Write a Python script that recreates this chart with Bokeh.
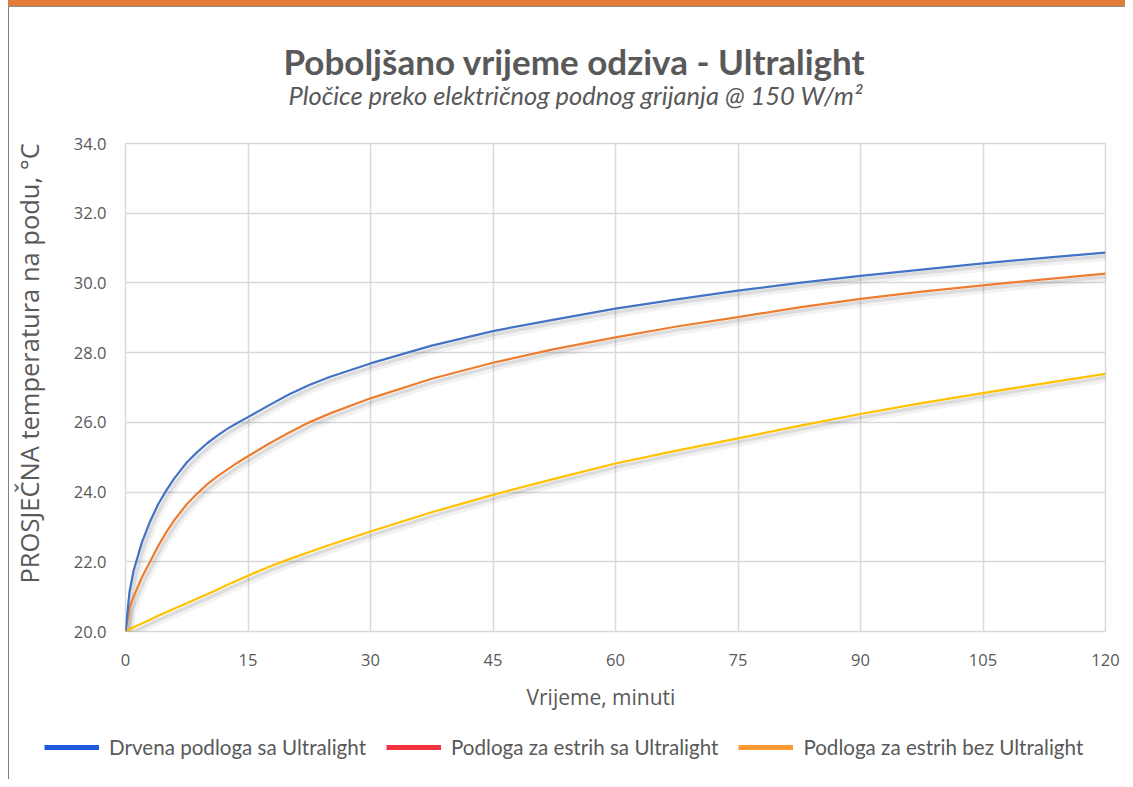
from bokeh.plotting import figure
from bokeh.layouts import column, row
from bokeh.models import (ColumnDataSource, Legend, LegendItem, FixedTicker, Title,
                          PrintfTickFormatter, Spacer)
from bokeh.transform import dodge
from bokeh.embed import file_html
from bokeh.resources import INLINE

# ---------------- data ----------------
minutes = [0, 0.5, 1, 2, 3, 4, 5, 6, 7.5, 8.75, 10, 11.25, 12.5, 13.75, 15, 17.5, 20,
           22.5, 25, 30, 37.5, 45, 52.5, 60, 67.5, 75, 82.5, 90, 97.5, 105, 112.5, 120]
wood_ultralight = [20.0, 21.15, 21.75, 22.55, 23.15, 23.65, 24.05, 24.4, 24.85, 25.14,
                   25.4, 25.62, 25.82, 25.99, 26.15, 26.48, 26.8, 27.07, 27.3, 27.69,
                   28.2, 28.62, 28.95, 29.26, 29.53, 29.78, 30.0, 30.2, 30.38, 30.56,
                   30.72, 30.87]
screed_ultralight = [20.0, 20.7, 21.0, 21.55, 22.0, 22.45, 22.85, 23.2, 23.65, 23.95,
                     24.22, 24.45, 24.65, 24.85, 25.03, 25.38, 25.7, 26.0, 26.25, 26.69,
                     27.25, 27.71, 28.1, 28.44, 28.75, 29.02, 29.3, 29.54, 29.75, 29.93,
                     30.1, 30.27]
screed_plain = [20.0, 20.06, 20.12, 20.23, 20.34, 20.45, 20.55, 20.66, 20.81, 20.94,
                21.07, 21.2, 21.34, 21.47, 21.6, 21.85, 22.07, 22.28, 22.48, 22.87,
                23.42, 23.92, 24.38, 24.82, 25.19, 25.54, 25.9, 26.24, 26.55, 26.84,
                27.12, 27.39]

series_names = ["Drvena podloga sa Ultralight",
                "Podloga za estrih sa Ultralight",
                "Podloga za estrih bez Ultralight"]
x_ticks = [0, 15, 30, 45, 60, 75, 90, 105, 120]
y_ticks = [20, 22, 24, 26, 28, 30, 32, 34]

title_text = "Poboljšano vrijeme odziva  - Ultralight"
subtitle_text = "Pločice preko električnog podnog grijanja @ 150 W/m²"
x_title = "Vrijeme, minuti"
y_title = "PROSJEČNA temperatura na podu, °C"

# ---------------- styling ----------------
line_colors = ["#4472C4", "#ED7D31", "#FFC000"]
legend_colors = ["#1E5BDB", "#F5333F", "#FF9933"]
text_gray = "#595959"
grid_gray = "#D9D9D9"

src = ColumnDataSource(dict(t=minutes, a=wood_ultralight, b=screed_ultralight,
                            c=screed_plain))

MAIN_W = 1116
p = figure(width=MAIN_W, height=723, output_backend="svg", toolbar_location=None,
           x_range=(0, 120), y_range=(20, 34), title=None,
           min_border_left=116, min_border_right=20, min_border_top=136,
           min_border_bottom=99)
p.frame_align = False
p.background_fill_color = "white"
p.border_fill_color = "white"
p.outline_line_color = grid_gray
p.outline_line_width = 1.5

for g in (p.xgrid, p.ygrid):
    g.grid_line_color = grid_gray
    g.grid_line_width = 1.5
p.xaxis.ticker = FixedTicker(ticks=x_ticks)
p.yaxis.ticker = FixedTicker(ticks=y_ticks)
p.xgrid.ticker = FixedTicker(ticks=x_ticks)
p.ygrid.ticker = FixedTicker(ticks=y_ticks)

for ax in (p.xaxis, p.yaxis):
    ax.axis_line_color = None
    ax.major_tick_line_color = None
    ax.minor_tick_line_color = None
    ax.major_tick_in = 0
    ax.major_tick_out = 0
    ax.major_label_text_font = "Open Sans"
    ax.major_label_text_font_size = "16.5px"
    ax.major_label_text_color = text_gray
p.yaxis.formatter = PrintfTickFormatter(format="%.1f")
p.yaxis.major_label_standoff = 19
p.xaxis.major_label_standoff = 22

# soft shadows under the curves
for col in ("c", "b", "a"):
    p.line(x=dodge("t", 0.4), y=dodge(col, -0.13), source=src,
           line_color="#000000", line_alpha=0.05, line_width=7)
    p.line(x=dodge("t", 0.3), y=dodge(col, -0.09), source=src,
           line_color="#000000", line_alpha=0.09, line_width=3.5)

# data lines
for col, c in zip(("c", "b", "a"), line_colors[::-1]):
    p.line(x="t", y=col, source=src, line_color=c, line_width=2.25)

# titles (first added is closest to the frame)
p.add_layout(Title(text=" ", text_font_size="1px", standoff=31), "above")
p.add_layout(Title(text=subtitle_text, align="left", offset=163, standoff=0,
                   text_font="Lato", text_font_style="italic",
                   text_font_size="25.5px", text_color=text_gray), "above")
p.add_layout(Title(text=title_text, align="left", offset=158, standoff=-8,
                   text_font="Lato", text_font_style="bold",
                   text_font_size="35px", text_color=text_gray), "above")
p.add_layout(Title(text=" ", text_font_size="1px", standoff=22), "left")
p.add_layout(Title(text=y_title, align="left", offset=48, standoff=0,
                   text_font="Open Sans", text_font_style="normal",
                   text_font_size="25.5px", text_color=text_gray), "left")
p.add_layout(Title(text=x_title, align="left", offset=401, standoff=24,
                   text_font="Open Sans", text_font_style="normal",
                   text_font_size="21px", text_color=text_gray), "below")

# legend strip (swatch colours differ from the lines, as in the reference)
leg = figure(width=MAIN_W, height=49, output_backend="svg", toolbar_location=None,
             x_range=(0, 1), y_range=(0, 1), x_axis_type=None, y_axis_type=None,
             min_border=0, title=None)
leg.frame_align = False
leg.outline_line_color = None
leg.grid.visible = False
items = []
for col, name, c in zip(("a", "b", "c"), series_names, legend_colors):
    r = leg.line(x="t", y=col, source=src, line_color=c, line_width=5)
    items.append(LegendItem(label=name, renderers=[r]))
legend = Legend(items=items, location=(35, 20), orientation="horizontal",
                glyph_width=55, glyph_height=20, label_standoff=10, spacing=20,
                padding=0, margin=0, border_line_color=None,
                background_fill_alpha=0, label_text_font="Lato",
                label_text_font_size="20.6px", label_text_color=text_gray,
                label_height=20)
leg.add_layout(legend, "center")

# card decoration: orange band, grey rule and thin left border
band = Spacer(width=1117, height=6, styles={"background-color": "#E07B39"})
rule = Spacer(width=1117, height=1, styles={"background-color": "#8C8C8C"})
vline = Spacer(width=1, height=772, styles={"background-color": "#808080"})

layout = column(row(Spacer(width=8, height=6), band),
                row(Spacer(width=8, height=1), rule),
                row(Spacer(width=8, height=772), vline, column(p, leg)))

open("out.html", "w").write(file_html(layout, INLINE))
